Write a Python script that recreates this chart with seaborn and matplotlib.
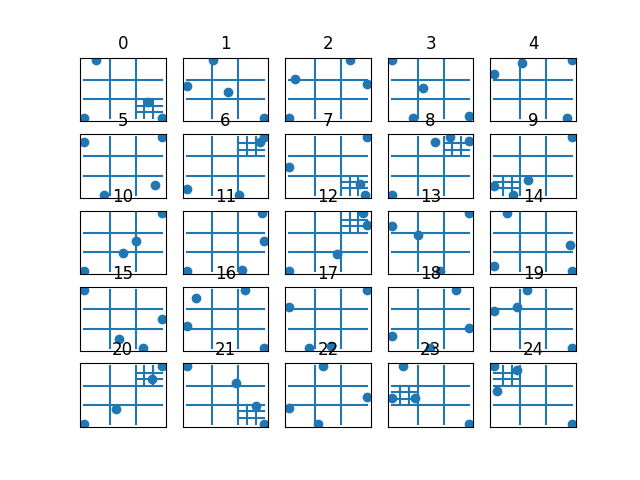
import seaborn as sns
import matplotlib.pyplot as plt
import numpy as np

# point coordinates for each of the 25 panels
panel_x = [
    [0.156, 0.0, 1.0, 0.82],
    [0.345, 0.0, 0.54, 1.0],
    [0.78, 0.076, 1.0, 0.0],
    [0.0, 0.407, 0.278, 1.0],
    [0.0, 0.352, 1.0, 0.935],
    [0.0, 1.0, 0.26, 0.915],
    [0.0, 0.67, 0.95, 1.0],
    [0.0, 1.0, 0.91, 0.97],
    [0.0, 0.557, 0.75, 1.0],
    [1.0, 0.0, 0.245, 0.438],
    [1.0, 0.0, 0.5, 0.675],
    [0.967, 1.0, 0.0, 0.71],
    [0.0, 0.62, 0.955, 1.0],
    [0.0, 0.335, 1.0, 0.62],
    [0.168, 0.975, 0.0, 1.0],
    [0.0, 1.0, 0.456, 0.765],
    [0.118, 0.753, 0.0, 1.0],
    [0.0, 1.0, 0.26, 0.535],
    [0.828, 1.0, 0.0, 0.49],
    [0.417, 0.0, 0.297, 1.0],
    [0.0, 1.0, 0.88, 0.413],
    [0.0, 0.64, 0.895, 1.0],
    [0.44, 1.0, 0.0, 0.376],
    [0.141, 0.0, 0.3, 1.0],
    [0.0, 0.297, 0.04, 1.0],
]
panel_y = [
    [1.0, 0.0, 0.0, 0.29],
    [1.0, 0.56, 0.46, 0.0],
    [1.0, 0.675, 0.595, 0.0],
    [1.0, 0.52, 0.0, 0.04],
    [0.767, 0.95, 1.0, 0.0],
    [0.91, 1.0, 0.0, 0.165],
    [0.11, 0.0, 0.92, 1.0],
    [0.49, 1.0, 0.19, 0.0],
    [0.0, 0.907, 1.0, 0.925],
    [1.0, 0.15, 0.0, 0.25],
    [1.0, 0.0, 0.32, 0.52],
    [1.0, 0.52, 0.0, 0.02],
    [0.0, 0.3, 1.0, 0.8],
    [0.79, 0.63, 1.0, 0.0],
    [1.0, 0.455, 0.09, 0.0],
    [1.0, 0.49, 0.146, 0.0],
    [0.854, 1.0, 0.376, 0.0],
    [0.7, 1.0, 0.0, 0.04],
    [1.0, 0.35, 0.21, 0.0],
    [1.0, 0.64, 0.71, 0.0],
    [0.0, 1.0, 0.775, 0.27],
    [1.0, 0.72, 0.31, 0.0],
    [1.0, 0.475, 0.286, 0.0],
    [1.0, 0.447, 0.447, 0.0],
    [1.0, 0.93, 0.57, 0.0],
]


def draw_grid(ax, x0, x1, y0, y1):
    # two inner lines each way, splitting the box into 3x3
    for k in (1, 2):
        xv = x0 + (x1 - x0) * k / 3
        yh = y0 + (y1 - y0) * k / 3
        ax.plot([xv, xv], [y0, y1], color="C0")
        ax.plot([x0, x1], [yh, yh], color="C0")


fig, axes = plt.subplots(5, 5)

for i, ax in enumerate(axes.flat):
    x = np.array(panel_x[i])
    y = np.array(panel_y[i])
    x0, x1 = x.min(), x.max()
    y0, y1 = y.min(), y.max()

    sns.scatterplot(x=x, y=y, ax=ax, color="C0", s=36,
                    edgecolor="C0", linewidth=1)
    draw_grid(ax, x0, x1, y0, y1)

    # cells holding more than one point get their own 3x3 split
    col = np.clip(((x - x0) / (x1 - x0) * 3).astype(int), 0, 2)
    row = np.clip(((y - y0) / (y1 - y0) * 3).astype(int), 0, 2)
    cells = {}
    for c, r in zip(col, row):
        cells[(c, r)] = cells.get((c, r), 0) + 1
    for (c, r), n in cells.items():
        if n > 1:
            cw = (x1 - x0) / 3
            ch = (y1 - y0) / 3
            draw_grid(ax, x0 + c * cw, x0 + (c + 1) * cw,
                      y0 + r * ch, y0 + (r + 1) * ch)

    ax.set_xticks([])
    ax.set_yticks([])
    ax.set_title(str(i))

plt.savefig("out.png")
